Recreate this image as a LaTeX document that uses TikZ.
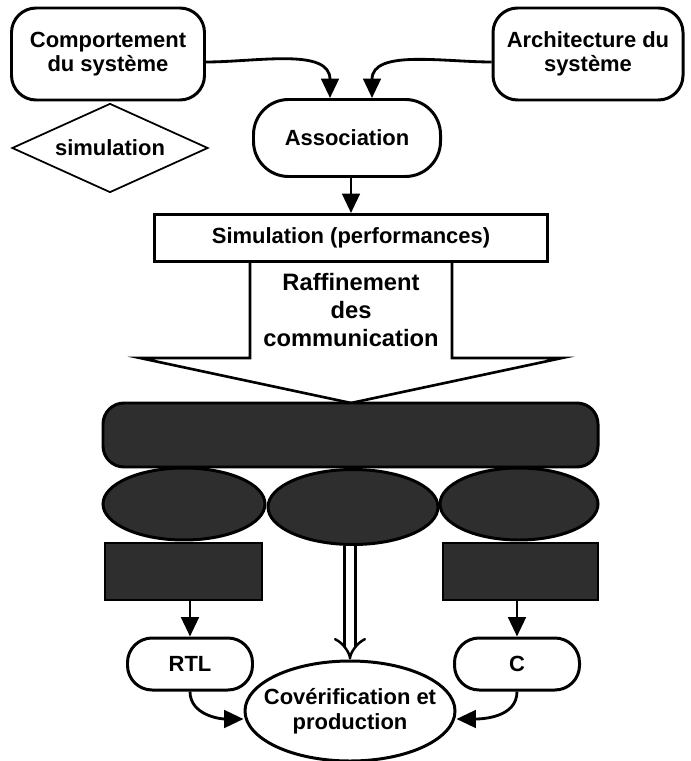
\documentclass[tikz,border=0pt]{standalone}
\usepackage{fontspec}
\setmainfont{Liberation Sans}
\usetikzlibrary{shapes.geometric,arrows.meta}
\tikzset{
  every node/.style={font=\fontsize{12.5}{14}\selectfont\bfseries, align=center, inner sep=2pt},
  boite/.style={draw, line width=1.7pt, rounded corners=14pt},
  sombre/.style={draw, line width=1.7pt, fill=black!82},
  flow/.style={line width=1.6pt, -{Triangle[length=11pt,width=10pt]}}
}
\begin{document}
\begin{tikzpicture}
\useasboundingbox (0,0) rectangle (13.8,-15.22);
\node[boite, minimum width=3.86cm, minimum height=1.84cm] (comp) at (2.16,-1.08) {Comportement\\du système};
\node[boite, minimum width=3.8cm, minimum height=1.84cm] (arch) at (11.76,-1.08) {Architecture du\\système};
\node[draw, diamond, aspect=2.2, line width=1pt, inner sep=0pt, minimum width=3.92cm, minimum height=1.78cm] (simu) at (2.2,-2.96) {simulation};
\node[boite, rounded corners=20pt, minimum width=3.74cm, minimum height=1.54cm] (assoc) at (6.94,-2.76) {Association};
\node[draw, line width=1.7pt, minimum width=7.86cm, minimum height=0.94cm] (perf) at (7.02,-4.76) {Simulation (performances)};
\draw[flow] ([yshift=-0.16cm]comp.east) to[out=0, in=90] ([xshift=-0.34cm]assoc.north);
\draw[flow] ([yshift=-0.16cm]arch.west) to[out=180, in=90] ([xshift=0.5cm]assoc.north);
\draw[flow] (perf.north |- assoc.south) -- (perf.north);
% raffinement
\draw[line width=1.5pt] (5.0,-5.24) -- (5.0,-7.16) -- (2.8,-7.16) -- (7.02,-8.06) -- (11.24,-7.16) -- (9.04,-7.16) -- (9.04,-5.24);
\node[font=\fontsize{13.5}{16}\selectfont\bfseries, align=center] (raff) at (7.02,-6.2) {Raffinement\\des\\communication};
\node[sombre, rounded corners=12pt, minimum width=9.9cm, minimum height=1.28cm] (bar) at (7.01,-8.7) {};
\node[sombre, ellipse, minimum width=3.24cm, minimum height=1.44cm] (eleft) at (3.68,-10.08) {};
\node[sombre, ellipse, minimum width=3.4cm, minimum height=1.5cm] (emid) at (7.06,-10.14) {};
\node[sombre, ellipse, minimum width=3.16cm, minimum height=1.44cm] (eright) at (10.38,-10.08) {};
\node[sombre, line width=1pt, minimum width=3.14cm, minimum height=1.14cm] (vleft) at (3.67,-11.43) {};
\node[sombre, line width=1pt, minimum width=3.1cm, minimum height=1.14cm] (vright) at (10.41,-11.43) {};
\node[boite, minimum width=2.5cm, minimum height=1.04cm] (rtl) at (3.8,-13.28) {RTL};
\node[boite, minimum width=2.5cm, minimum height=1.04cm] (cc) at (10.34,-13.28) {C};
\node[draw, ellipse, line width=1.7pt, minimum width=4.2cm, minimum height=2.0cm] (cover) at (7.0,-14.22) {};
\node (covtxt) at (cover.center) {Covérification et\\production};
\draw[flow] (rtl.north |- vleft.south) -- (rtl.north);
\draw[flow] (cc.north |- vright.south) -- (cc.north);
\draw[line width=1.4pt, double, double distance=5pt, -{Implies[length=8pt]}] (cover.north |- emid.south) -- (cover.north);
\draw[flow] (rtl.south) to[out=-90, in=180] ([yshift=-0.16cm]cover.west);
\draw[flow] (cc.south) to[out=-90, in=0] ([yshift=-0.16cm]cover.east);
\end{tikzpicture}
\end{document}
